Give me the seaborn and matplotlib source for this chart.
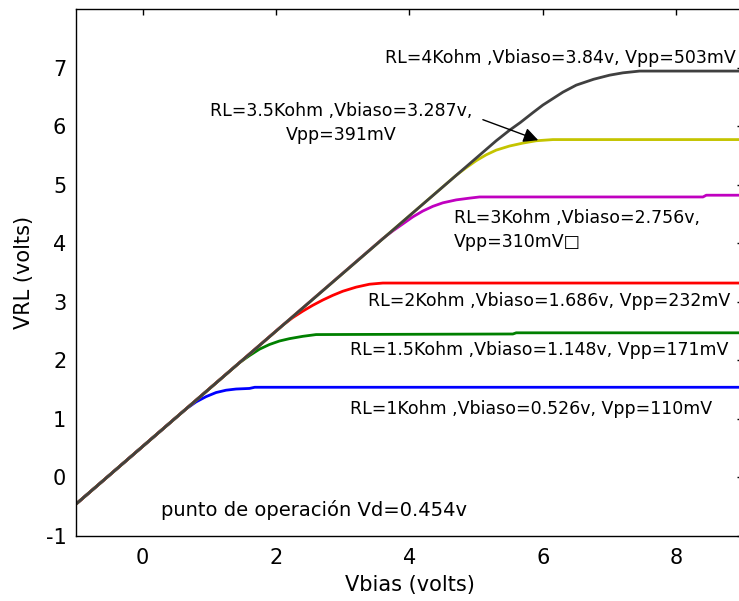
import matplotlib
matplotlib.use("Agg")
import matplotlib.pyplot as plt
import numpy as np
import pandas as pd
import seaborn as sns

# Vbias (x) / VRL (y) sample points for each load resistance
x_1k = [-1.0, 0.65, 0.8, 0.95, 1.1, 1.25, 1.4, 1.6, 1.68, 9.0]
y_1k = [-0.455, 1.17, 1.29, 1.38, 1.45, 1.49, 1.51, 1.52, 1.54, 1.54]

x_15k = [-1.0, 1.45, 1.6, 1.75, 1.9, 2.05, 2.2, 2.4, 2.6, 5.55, 5.6, 9.0]
y_15k = [-0.455, 1.96, 2.08, 2.19, 2.27, 2.33, 2.37, 2.41, 2.44, 2.45, 2.47, 2.47]

x_2k = [-1.0, 2.1, 2.25, 2.4, 2.55, 2.7, 2.85, 3.0, 3.2, 3.4, 3.6, 9.0]
y_2k = [-0.455, 2.60, 2.73, 2.84, 2.94, 3.03, 3.11, 3.18, 3.25, 3.30, 3.32, 3.32]

x_3k = [-1.0, 3.6, 3.75, 3.9, 4.05, 4.2, 4.35, 4.5, 4.7, 4.9, 5.05, 8.4, 8.45, 9.0]
y_3k = [-0.455, 4.08, 4.21, 4.33, 4.45, 4.55, 4.63, 4.69, 4.74, 4.77, 4.79, 4.79, 4.82, 4.82]

x_35k = [-1.0, 4.7, 4.85, 5.0, 5.15, 5.3, 5.5, 5.7, 5.9, 6.15, 9.0]
y_35k = [-0.455, 5.16, 5.29, 5.41, 5.51, 5.59, 5.66, 5.71, 5.75, 5.77, 5.77]

x_4k = [-1.0, 5.3, 5.5, 5.66, 5.85, 6.0, 6.15, 6.3, 6.5, 6.76, 7.0, 7.2, 7.45, 9.0]
y_4k = [-0.455, 5.75, 5.93, 6.06, 6.23, 6.36, 6.47, 6.58, 6.70, 6.80, 6.87, 6.91, 6.94, 6.94]

curves = [
    (x_1k, y_1k, "#0000ff"),
    (x_15k, y_15k, "#008000"),
    (x_2k, y_2k, "#ff0000"),
    (x_3k, y_3k, "#c000c0"),
    (x_35k, y_35k, "#c4c400"),
    (x_4k, y_4k, "#404040"),
]

x_ticks = [0, 2, 4, 6, 8]
y_ticks = [-1, 0, 1, 2, 3, 4, 5, 6, 7]

sns.set_theme(style="white")
plt.rcParams["font.family"] = ["DejaVu Sans"]
plt.rcParams["axes.edgecolor"] = "black"
plt.rcParams["axes.linewidth"] = 1.0
plt.rcParams["axes.unicode_minus"] = False
plt.rcParams["text.color"] = "black"
plt.rcParams["axes.labelcolor"] = "black"

fig = plt.figure(figsize=(7.39, 6.01), dpi=100)
ax = fig.add_axes([76 / 739, 1 - 536 / 601, 667 / 739, 527 / 601])

for xs, ys, col in curves:
    sns.lineplot(x=xs, y=ys, ax=ax, color=col, linewidth=2.0,
                 sort=False, estimator=None)

ax.set_xlim(-1, 9)
ax.set_ylim(-1, 8)
ax.set_xticks(x_ticks)
ax.set_yticks(y_ticks)
ax.tick_params(direction="in", length=4, width=1, top=True, right=True,
               labelsize=15, colors="black", pad=7)
ax.tick_params(axis="x", pad=9)
ax.set_xlabel("Vbias (volts)", fontsize=15, labelpad=5)
ax.set_ylabel("VRL (volts)", fontsize=15, labelpad=8.5)
for s in ax.spines.values():
    s.set_visible(True)
    s.set_color("black")

fs = 12.5
ax.text(3.63, 7.08, "RL=4Kohm ,Vbiaso=3.84v, Vpp=503mV", fontsize=fs,
        ha="left", va="baseline")
ax.text(2.97, 5.76, "RL=3.5Kohm ,Vbiaso=3.287v,\nVpp=391mV", fontsize=fs,
        ha="center", va="baseline", multialignment="center", linespacing=1.45)
ax.text(4.67, 3.935, "RL=3Kohm ,Vbiaso=2.756v,\nVpp=310mV\u25a1", fontsize=fs,
        ha="left", va="baseline", multialignment="left", linespacing=1.45)
ax.text(3.38, 2.92, "RL=2Kohm ,Vbiaso=1.686v, Vpp=232mV", fontsize=fs,
        ha="left", va="baseline")
ax.text(3.11, 2.09, "RL=1.5Kohm ,Vbiaso=1.148v, Vpp=171mV", fontsize=fs,
        ha="left", va="baseline")
ax.text(3.11, 1.09, "RL=1Kohm ,Vbiaso=0.526v, Vpp=110mV", fontsize=fs,
        ha="left", va="baseline")
ax.text(0.28, -0.65, "punto de operación Vd=0.454v", fontsize=14,
        ha="left", va="baseline")

ax.annotate("", xy=(5.93, 5.76), xytext=(5.1, 6.11),
            arrowprops=dict(arrowstyle="-|>", color="black", lw=1.0,
                            mutation_scale=22, shrinkA=0, shrinkB=0))

fig.savefig("out.png", dpi=100)
